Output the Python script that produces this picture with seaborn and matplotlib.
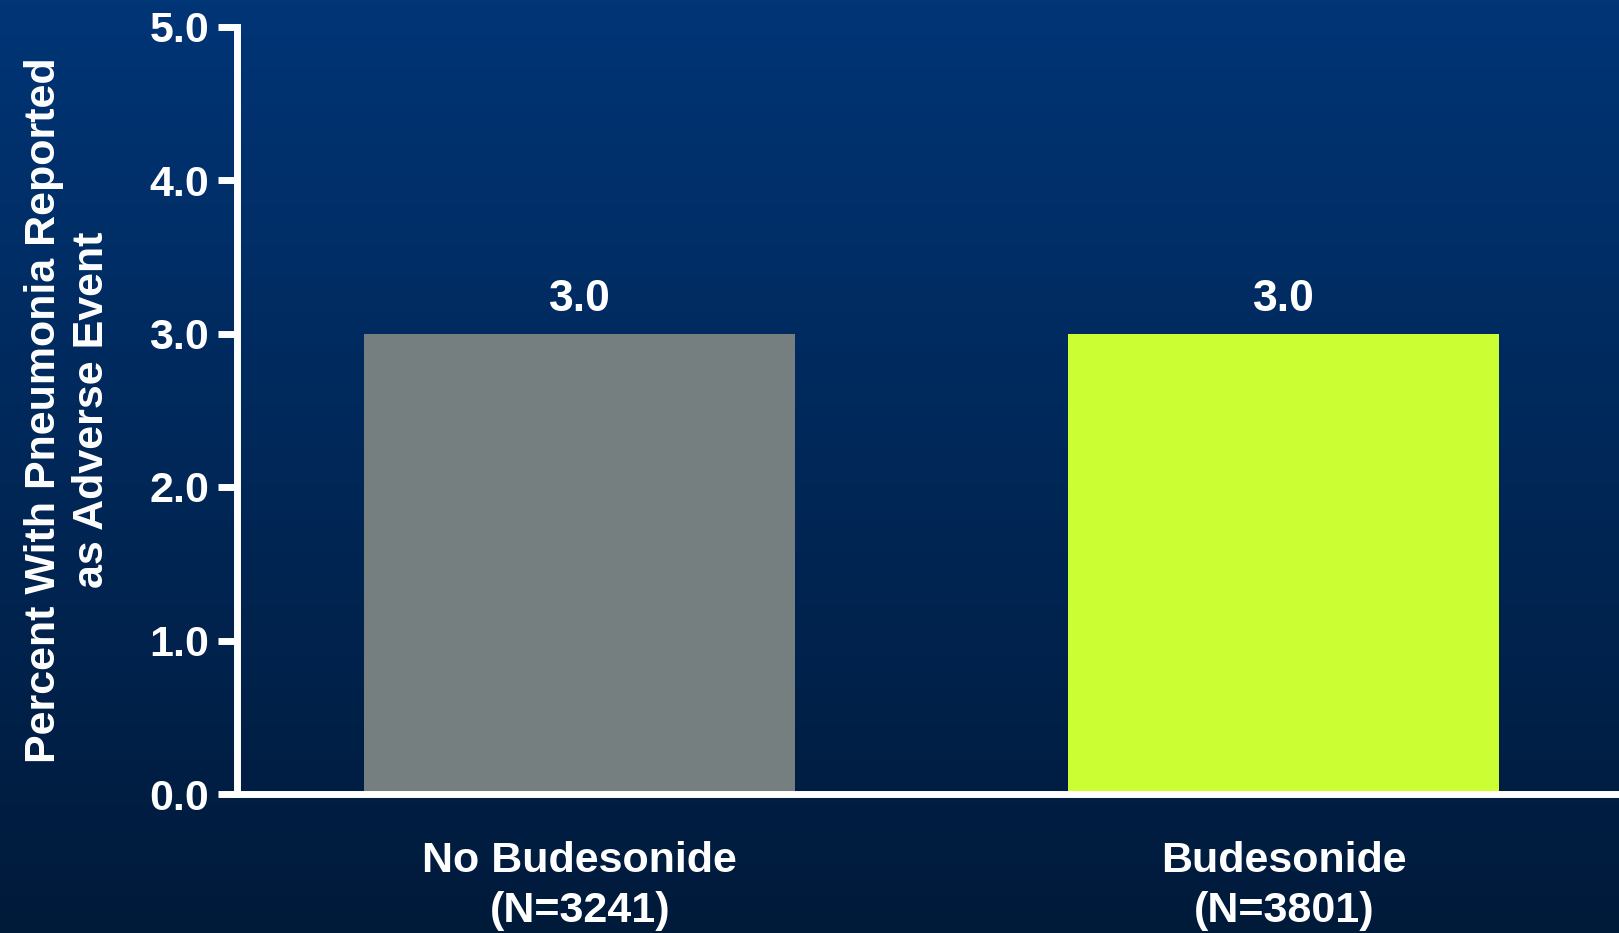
import numpy as np
import pandas as pd
import matplotlib
matplotlib.use("Agg")
import matplotlib.pyplot as plt
import seaborn as sns
from matplotlib.colors import LinearSegmentedColormap

categories = ["No Budesonide\n(N=3241)", "Budesonide\n(N=3801)"]
values = [3.0, 3.0]
value_labels = ["3.0", "3.0"]
bar_colors = ["#757f7f", "#ccff33"]
yticks = [0.0, 1.0, 2.0, 3.0, 4.0, 5.0]
ytick_labels = ["0.0", "1.0", "2.0", "3.0", "4.0", "5.0"]
ylabel = "Percent With Pneumonia Reported\nas Adverse Event"

sns.set_theme(style="white")
plt.rcParams["font.family"] = ["Liberation Sans", "DejaVu Sans"]
plt.rcParams["font.weight"] = "bold"

fig = plt.figure(figsize=(16.19, 9.33), dpi=100)

# background gradient
bg = fig.add_axes([0, 0, 1, 1], zorder=-10)
cmap = LinearSegmentedColormap.from_list("bg", ["#003576", "#001a3a"])
grad = np.linspace(0, 1, 256).reshape(-1, 1)
bg.imshow(grad, aspect="auto", cmap=cmap, extent=[0, 1, 0, 1], origin="upper")
bg.set_axis_off()

ax = fig.add_axes([237 / 1619, 1 - 794 / 933, 1 - 237 / 1619, (794 - 26.5) / 933])
ax.patch.set_alpha(0)

df = pd.DataFrame({"cat": categories, "val": values})
sns.barplot(data=df, x="cat", y="val", hue="cat", palette=bar_colors,
            width=0.612, ax=ax, legend=False, saturation=1, linewidth=0,
            edgecolor="none")

ax.set_ylim(0, 5)
ax.set_xlim(-0.487, 1.476)
ax.set_yticks(yticks)
ax.set_yticklabels(ytick_labels)

for c, lab in zip(ax.containers, value_labels):
    ax.bar_label(c, labels=[lab] * len(c), padding=10, color="white",
                 fontsize=32, fontweight="bold")

for s in ["top", "right"]:
    ax.spines[s].set_visible(False)
for s in ["left", "bottom"]:
    ax.spines[s].set_color("white")
    ax.spines[s].set_linewidth(5)

ax.tick_params(axis="y", colors="white", labelsize=31, length=14, width=5,
               direction="out", pad=6, left=True)
ax.tick_params(axis="x", colors="white", labelsize=31, length=0, pad=34)
for t in ax.get_xticklabels():
    t.set_linespacing(1.3)
for t in ax.get_xticklabels() + ax.get_yticklabels():
    t.set_fontweight("bold")
    t.set_color("white")

ax.set_xlabel("")
ax.set_ylabel(ylabel, color="white", fontsize=31, fontweight="bold", labelpad=27,
              linespacing=1.25)

fig.savefig("out.png", dpi=100)
